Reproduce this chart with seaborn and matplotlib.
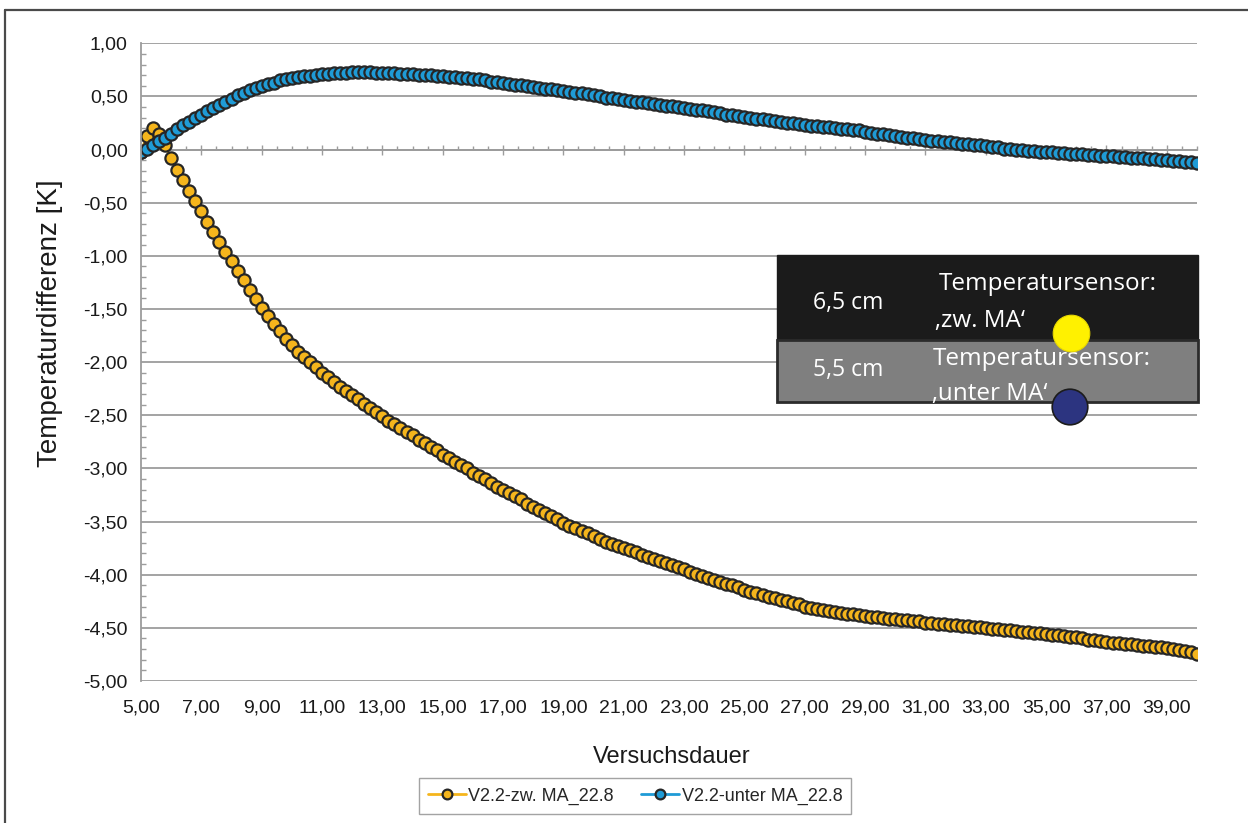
import numpy as np
import pandas as pd
import matplotlib
matplotlib.use("Agg")
import matplotlib.pyplot as plt
from matplotlib.patches import Rectangle, Ellipse
from matplotlib.lines import Line2D
from matplotlib.ticker import FuncFormatter, MultipleLocator, NullFormatter
import seaborn as sns

# ---------------------------------------------------------------------------
# Messdaten: Temperaturdifferenz [K] über der Versuchsdauer [min]
# ---------------------------------------------------------------------------
zeit = np.round(np.arange(5.0, 40.0 + 1e-9, 0.2), 1)

zw_ma = [
    -0.02, 0.13, 0.20, 0.15, 0.04, -0.08, -0.19, -0.29, -0.39, -0.48,
    -0.58, -0.68, -0.78, -0.87, -0.96, -1.05, -1.14, -1.23, -1.32, -1.41,
    -1.49, -1.57, -1.64, -1.71, -1.78, -1.84, -1.90, -1.95, -2.00, -2.05,
    -2.10, -2.14, -2.19, -2.23, -2.27, -2.31, -2.35, -2.39, -2.43, -2.47,
    -2.51, -2.55, -2.58, -2.62, -2.66, -2.69, -2.73, -2.76, -2.80, -2.83,
    -2.87, -2.90, -2.94, -2.97, -3.00, -3.04, -3.07, -3.10, -3.14, -3.17,
    -3.20, -3.23, -3.26, -3.29, -3.33, -3.36, -3.39, -3.42, -3.45, -3.48,
    -3.51, -3.54, -3.56, -3.59, -3.61, -3.64, -3.66, -3.69, -3.71, -3.73,
    -3.75, -3.77, -3.79, -3.81, -3.83, -3.85, -3.87, -3.89, -3.91, -3.93,
    -3.95, -3.97, -3.99, -4.01, -4.03, -4.05, -4.07, -4.09, -4.10, -4.12,
    -4.14, -4.16, -4.17, -4.19, -4.21, -4.22, -4.24, -4.25, -4.27, -4.28,
    -4.30, -4.31, -4.32, -4.33, -4.34, -4.35, -4.36, -4.37, -4.37, -4.38,
    -4.39, -4.40, -4.40, -4.41, -4.42, -4.42, -4.43, -4.43, -4.44, -4.44,
    -4.45, -4.45, -4.46, -4.46, -4.47, -4.47, -4.48, -4.48, -4.49, -4.49,
    -4.50, -4.51, -4.51, -4.52, -4.52, -4.53, -4.54, -4.54, -4.55, -4.55,
    -4.56, -4.57, -4.57, -4.58, -4.59, -4.59, -4.60, -4.61, -4.61, -4.62,
    -4.63, -4.64, -4.64, -4.65, -4.65, -4.66, -4.67, -4.67, -4.68, -4.68,
    -4.69, -4.70, -4.71, -4.72, -4.73, -4.75,
]

unter_ma = [
    -0.02, 0.01, 0.04, 0.08, 0.11, 0.15, 0.19, 0.23, 0.26, 0.30,
    0.33, 0.36, 0.39, 0.42, 0.45, 0.48, 0.51, 0.53, 0.56, 0.58,
    0.60, 0.62, 0.63, 0.65, 0.66, 0.67, 0.68, 0.69, 0.69, 0.70,
    0.71, 0.71, 0.72, 0.72, 0.72, 0.73, 0.73, 0.73, 0.73, 0.72,
    0.72, 0.72, 0.72, 0.71, 0.71, 0.71, 0.70, 0.70, 0.70, 0.69,
    0.69, 0.68, 0.68, 0.67, 0.67, 0.66, 0.66, 0.65, 0.64, 0.64,
    0.63, 0.62, 0.61, 0.61, 0.60, 0.59, 0.58, 0.57, 0.57, 0.56,
    0.55, 0.54, 0.53, 0.53, 0.52, 0.51, 0.50, 0.49, 0.49, 0.48,
    0.47, 0.46, 0.45, 0.45, 0.44, 0.43, 0.42, 0.41, 0.41, 0.40,
    0.39, 0.38, 0.37, 0.37, 0.36, 0.35, 0.34, 0.33, 0.33, 0.32,
    0.31, 0.30, 0.29, 0.29, 0.28, 0.27, 0.26, 0.25, 0.25, 0.24,
    0.23, 0.22, 0.22, 0.21, 0.21, 0.20, 0.19, 0.19, 0.18, 0.18,
    0.17, 0.16, 0.15, 0.15, 0.14, 0.13, 0.12, 0.11, 0.11, 0.10,
    0.09, 0.08, 0.08, 0.07, 0.07, 0.06, 0.05, 0.05, 0.04, 0.04,
    0.03, 0.02, 0.02, 0.01, 0.01, 0.00, 0.00, -0.01, -0.01, -0.02,
    -0.02, -0.02, -0.03, -0.03, -0.04, -0.04, -0.04, -0.05, -0.05, -0.06,
    -0.06, -0.06, -0.07, -0.07, -0.08, -0.08, -0.08, -0.09, -0.09, -0.10,
    -0.10, -0.11, -0.11, -0.12, -0.12, -0.13,
]

serien = ["V2.2-zw. MA_22.8", "V2.2-unter MA_22.8"]
farben = ["#F5B51C", "#1F9BD6"]

y_ticks = np.arange(-5.0, 1.0 + 1e-9, 0.5)
x_ticks = np.arange(5, 40, 2)
x_lim = (5.0, 40.0)
y_lim = (-5.0, 1.0)

# Beschriftung der eingefügten Sensor-Legende
sensor_abstand = ["6,5 cm", "5,5 cm"]
sensor_text = [("Temperatursensor:", "\u201azw. MA\u2018"),
               ("Temperatursensor:", "\u201aunter MA\u2018")]

# ---------------------------------------------------------------------------
sns.set_style("white")
plt.rcParams["font.family"] = ["Liberation Sans", "DejaVu Sans"]

W, H = 1248, 823
fig = plt.figure(figsize=(W / 100, H / 100), dpi=100)


def fx(px):
    return px / W


def fy(py):
    return 1 - py / H


ax = fig.add_axes([fx(141), fy(681), fx(1197) - fx(141), fy(43.3) - fy(681)])

df = pd.concat([
    pd.DataFrame({"Versuchsdauer": zeit, "Temperaturdifferenz": zw_ma,
                  "Sensor": serien[0]}),
    pd.DataFrame({"Versuchsdauer": zeit, "Temperaturdifferenz": unter_ma,
                  "Sensor": serien[1]}),
])

sns.lineplot(
    data=df, x="Versuchsdauer", y="Temperaturdifferenz", hue="Sensor",
    hue_order=serien, palette=farben, estimator=None, sort=False,
    marker="o", markersize=8.8, markeredgecolor="#262626",
    markeredgewidth=1.6, linewidth=2.0, legend=False, ax=ax,
)
handles = list(ax.lines[:2])

grau = "#9C9C9C"
ax.set_xlim(*x_lim)
ax.set_ylim(*y_lim)
ax.set_axisbelow(True)

komma = FuncFormatter(lambda v, _: f"{v:.2f}".replace(".", ","))

# y-Achse
ax.set_yticks(y_ticks)
ax.yaxis.set_major_formatter(komma)
ax.yaxis.set_minor_locator(MultipleLocator(0.1))
ax.tick_params(axis="y", which="major", direction="out", length=3.6,
               width=1.0, color=grau, pad=6, labelsize=14, labelcolor="#1a1a1a")
ax.tick_params(axis="y", which="minor", direction="in", length=3.6,
               width=1.0, color=grau, left=True)
ax.grid(axis="y", which="major", color=grau, linewidth=1.3)
ax.grid(axis="x", visible=False)

# x-Beschriftung am unteren Rand
ax.set_xticks(x_ticks)
ax.xaxis.set_major_formatter(komma)
ax.tick_params(axis="x", which="both", length=0, pad=13.5, labelsize=14,
               labelcolor="#1a1a1a")

for s in ["top", "right", "bottom"]:
    ax.spines[s].set_visible(False)
ax.spines["left"].set_color(grau)
ax.spines["left"].set_linewidth(1.3)

# Nulllinie mit Teilstrichen (Rubrikenachse bei 0)
null_pos = (0 - y_lim[0]) / (y_lim[1] - y_lim[0])
sec = ax.secondary_xaxis(null_pos)
sec.set_alignment("bottom")
sec.spines["bottom"].set_color(grau)
sec.spines["bottom"].set_linewidth(1.3)
sec.set_xticks(x_ticks)
sec.xaxis.set_minor_locator(MultipleLocator(0.5))
sec.xaxis.set_major_formatter(NullFormatter())
sec.tick_params(which="major", direction="inout", length=7, width=1.0, color=grau)
sec.tick_params(which="minor", direction="in", length=3, width=1.0, color=grau)

ax.set_xlabel("Versuchsdauer", fontsize=17, color="#1a1a1a")
ax.set_ylabel("Temperaturdifferenz [K]", fontsize=20, color="#1a1a1a")
ax.xaxis.set_label_coords(0.503, -0.102)
ax.yaxis.label.set_verticalalignment("center")
ax.yaxis.set_label_coords(fx(50 - 141) * W / 1056, 0.561)

# Legende unterhalb
leg = fig.legend(handles, serien, loc="center",
                 bbox_to_anchor=(fx(635), fy(796)), ncol=2, frameon=True,
                 fancybox=False, edgecolor="#8C8C8C", fontsize=13,
                 handlelength=2.1, handletextpad=0.15, columnspacing=1.5,
                 borderpad=0.5, markerscale=0.8)
leg.get_frame().set_linewidth(1.0)

# Sensor-Legende (Abstände und Messpositionen)
fig.add_artist(Rectangle((fx(777), fy(340)), fx(1198) - fx(777), fy(255) - fy(340),
                         transform=fig.transFigure, facecolor="#1b1b1b",
                         edgecolor="#1b1b1b", linewidth=1.0, zorder=2))
fig.add_artist(Rectangle((fx(777), fy(402)), fx(1198) - fx(777), fy(340) - fy(402),
                         transform=fig.transFigure, facecolor="#7f7f7f",
                         edgecolor="#2b2b2b", linewidth=2.0, zorder=2))

inset_font = ["Open Sans", "DejaVu Sans"]
fig.text(fx(813), fy(309), sensor_abstand[0], family=inset_font, fontsize=16.5,
         color="white", ha="left", va="baseline", zorder=3)
fig.text(fx(939), fy(290), sensor_text[0][0], family=inset_font, fontsize=17.5,
         color="white", ha="left", va="baseline", zorder=3)
fig.text(fx(935), fy(327), sensor_text[0][1], family=inset_font, fontsize=17.5,
         color="white", ha="left", va="baseline", zorder=3)
fig.text(fx(813), fy(376), sensor_abstand[1], family=inset_font, fontsize=16.5,
         color="white", ha="left", va="baseline", zorder=3)
fig.text(fx(933), fy(365), sensor_text[1][0], family=inset_font, fontsize=17.5,
         color="white", ha="left", va="baseline", zorder=3)
fig.text(fx(932), fy(400), sensor_text[1][1], family=inset_font, fontsize=17.5,
         color="white", ha="left", va="baseline", zorder=3)

fig.add_artist(Ellipse((fx(1071.5), fy(333.5)), 2 * 18.3 / W, 2 * 18.3 / H,
                       transform=fig.transFigure, facecolor="#FFF100",
                       edgecolor="#E8D800", linewidth=0.8, zorder=4))
fig.add_artist(Ellipse((fx(1070), fy(407)), 2 * 17.8 / W, 2 * 17.8 / H,
                       transform=fig.transFigure, facecolor="#2C3480",
                       edgecolor="#1c1c1c", linewidth=1.2, zorder=4))

# Rahmen
fig.add_artist(Line2D([fx(5), 1.0], [fy(10), fy(10)], transform=fig.transFigure,
                      color="#4a4a4a", linewidth=1.6))
fig.add_artist(Line2D([fx(5), fx(5)], [fy(10), 0.0], transform=fig.transFigure,
                      color="#4a4a4a", linewidth=1.6))

fig.savefig("out.png", dpi=100)
